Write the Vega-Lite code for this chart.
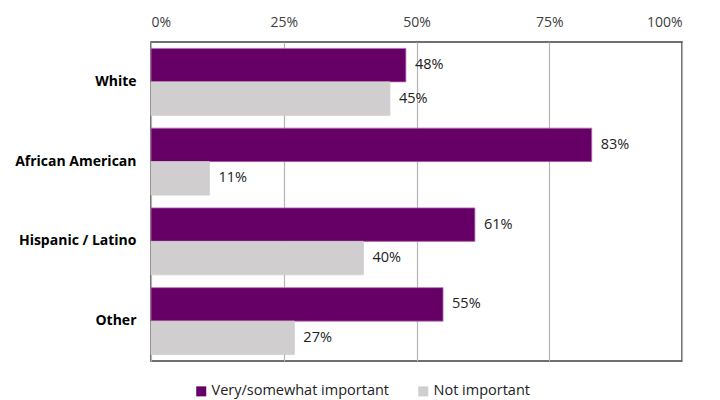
{
  "$schema": "https://vega.github.io/schema/vega-lite/v6.json",
  "width": 531,
  "height": 319,
  "autosize": "none",
  "padding": {"left": 151, "top": 42, "right": 38, "bottom": 39},
  "background": "white",
  "config": {
    "font": "Open Sans",
    "view": {"stroke": "#404040", "strokeWidth": 1.5}
  },
  "data": {
    "values": [
      {"group": "White", "series": "Very/somewhat important", "value": 0.48},
      {"group": "White", "series": "Not important", "value": 0.45},
      {"group": "African American", "series": "Very/somewhat important", "value": 0.83},
      {"group": "African American", "series": "Not important", "value": 0.11},
      {"group": "Hispanic / Latino", "series": "Very/somewhat important", "value": 0.61},
      {"group": "Hispanic / Latino", "series": "Not important", "value": 0.40},
      {"group": "Other", "series": "Very/somewhat important", "value": 0.55},
      {"group": "Other", "series": "Not important", "value": 0.27}
    ]
  },
  "encoding": {
    "y": {
      "field": "group",
      "type": "nominal",
      "sort": ["White", "African American", "Hispanic / Latino", "Other"],
      "scale": {"paddingInner": 0.16, "paddingOuter": 0.08},
      "axis": {
        "title": null,
        "domain": false,
        "ticks": false,
        "labelFontWeight": "bold",
        "labelFontSize": 14,
        "labelColor": "#000000",
        "labelPadding": 15
      }
    },
    "yOffset": {
      "field": "series",
      "type": "nominal",
      "sort": ["Very/somewhat important", "Not important"],
      "scale": {"paddingInner": 0, "paddingOuter": 0}
    },
    "x": {
      "field": "value",
      "type": "quantitative",
      "scale": {"domain": [0, 1], "nice": false},
      "axis": {
        "orient": "top",
        "title": null,
        "format": ".0%",
        "values": [0, 0.25, 0.5, 0.75, 1],
        "domain": false,
        "ticks": false,
        "labelFontSize": 14,
        "labelColor": "#404040",
        "labelPadding": 13,
        "grid": true,
        "gridColor": "#b4b4b4",
        "gridWidth": 1.2
      }
    }
  },
  "layer": [
    {
      "mark": {"type": "bar", "strokeWidth": 0.8},
      "encoding": {
        "color": {
          "field": "series",
          "type": "nominal",
          "sort": ["Very/somewhat important", "Not important"],
          "scale": {
            "domain": ["Very/somewhat important", "Not important"],
            "range": ["#660066", "#d0cece"]
          },
          "legend": {
            "title": null,
            "orient": "none",
            "direction": "horizontal",
            "legendX": 43,
            "legendY": 342,
            "symbolType": "square",
            "symbolSize": 100,
            "symbolStrokeWidth": 0,
            "symbolOpacity": 1,
            "labelFontSize": 14.5,
            "labelLimit": 400,
            "labelColor": "#222222",
            "labelOffset": 3,
            "columnPadding": 26
          }
        },
        "stroke": {
          "field": "series",
          "type": "nominal",
          "scale": {
            "domain": ["Very/somewhat important", "Not important"],
            "range": ["#b070b0", "#d0cece"]
          },
          "legend": null
        }
      }
    },
    {
      "mark": {"type": "text", "align": "left", "dx": 9, "fontSize": 14.5, "color": "#222222"},
      "encoding": {
        "text": {"field": "value", "type": "quantitative", "format": ".0%"}
      }
    }
  ]
}
